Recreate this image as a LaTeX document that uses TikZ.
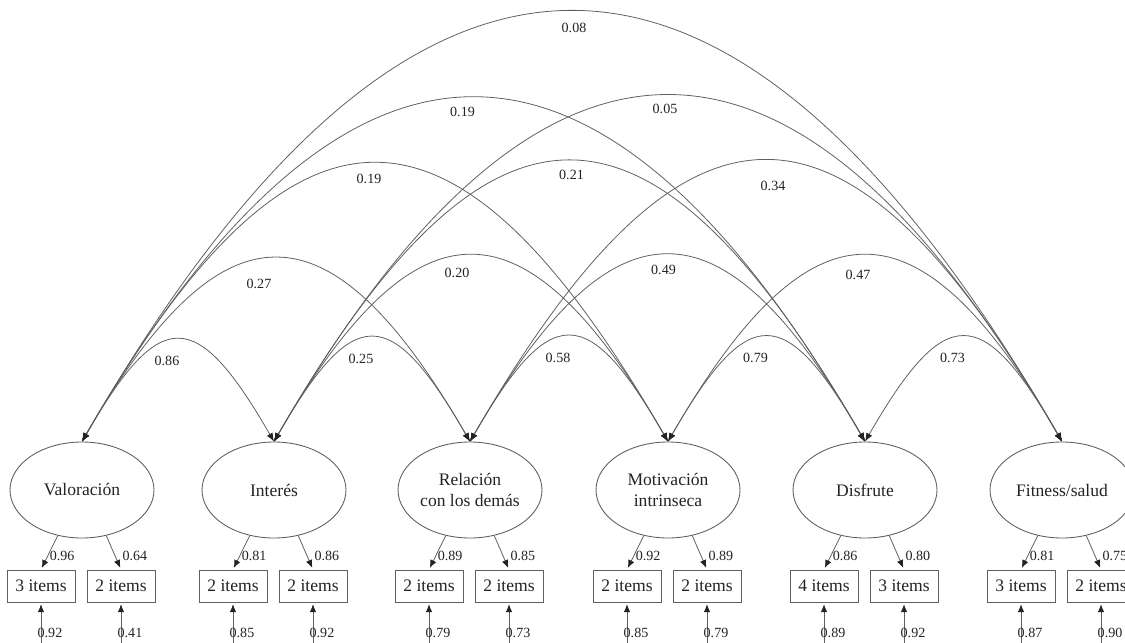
\documentclass[tikz,border=0pt]{standalone}
\usepackage{fontspec}
\setmainfont{Liberation Serif}
\usetikzlibrary{shapes,arrows.meta,positioning,calc}
\usepackage{xcolor}
\definecolor{semgray}{RGB}{95,95,95}
\definecolor{semtext}{RGB}{35,35,35}

\begin{document}
\begin{tikzpicture}[
    latent/.style={ellipse, draw=semgray, line width=0.5pt, minimum width=2.88cm, minimum height=1.92cm,
        inner sep=0pt, align=center, text=semtext, font=\fontsize{10}{12}\selectfont},
    obs/.style={rectangle, draw=semgray, line width=0.5pt, minimum width=1.36cm, minimum height=0.64cm,
        inner sep=1pt, text=semtext, font=\fontsize{10}{12}\selectfont},
    corr/.style={draw=semgray, line width=0.45pt,
        {Latex[length=1.7mm,width=1.3mm,color=semtext]}-{Latex[length=1.7mm,width=1.3mm,color=semtext]}},
    load/.style={draw=semgray, line width=0.45pt, -{Latex[length=1.6mm,width=1.3mm,color=semtext]}, shorten >=1pt},
    lbl/.style={inner sep=1pt, text=semtext, font=\fontsize{8}{9}\selectfont},
]
    \useasboundingbox (0,0) rectangle (22.5,12.84);

    % Latent factors
    \node[latent] (val) at (1.64,3.04) {Valoración};
    \node[latent] (int) at (5.48,3.04) {Interés};
    \node[latent] (rel) at (9.40,3.04) {Relación\\con los demás};
    \node[latent] (mot) at (13.36,3.04) {Motivación\\intrinseca};
    \node[latent] (dis) at (17.30,3.04) {Disfrute};
    \node[latent] (fit) at (21.24,3.04) {Fitness/salud};

    % Indicators
    \node[obs] (val1) at (0.82,1.12) {3 items};
    \node[obs] (val2) at (2.42,1.12) {2 items};
    \node[obs] (int1) at (4.66,1.12) {2 items};
    \node[obs] (int2) at (6.26,1.12) {2 items};
    \node[obs] (rel1) at (8.58,1.12) {2 items};
    \node[obs] (rel2) at (10.18,1.12) {2 items};
    \node[obs] (mot1) at (12.54,1.12) {2 items};
    \node[obs] (mot2) at (14.14,1.12) {2 items};
    \node[obs] (dis1) at (16.48,1.12) {4 items};
    \node[obs] (dis2) at (18.08,1.12) {3 items};
    \node[obs] (fit1) at (20.42,1.12) {3 items};
    \node[obs] (fit2) at (22.02,1.12) {2 items};

    % Loadings
    \draw[load] (val.242) -- (val1.north) node[lbl, pos=0.6, right=0pt] {0.96};
    \draw[load] (val.298) -- (val2.north) node[lbl, pos=0.6, right=3pt] {0.64};
    \draw[load] (int.242) -- (int1.north) node[lbl, pos=0.6, right=0pt] {0.81};
    \draw[load] (int.298) -- (int2.north) node[lbl, pos=0.6, right=3pt] {0.86};
    \draw[load] (rel.242) -- (rel1.north) node[lbl, pos=0.6, right=0pt] {0.89};
    \draw[load] (rel.298) -- (rel2.north) node[lbl, pos=0.6, right=3pt] {0.85};
    \draw[load] (mot.242) -- (mot1.north) node[lbl, pos=0.6, right=0pt] {0.92};
    \draw[load] (mot.298) -- (mot2.north) node[lbl, pos=0.6, right=3pt] {0.89};
    \draw[load] (dis.242) -- (dis1.north) node[lbl, pos=0.6, right=0pt] {0.86};
    \draw[load] (dis.298) -- (dis2.north) node[lbl, pos=0.6, right=3pt] {0.80};
    \draw[load] (fit.242) -- (fit1.north) node[lbl, pos=0.6, right=0pt] {0.81};
    \draw[load] (fit.298) -- (fit2.north) node[lbl, pos=0.6, right=3pt] {0.75};

    % Errors
    \coordinate[below=0.96cm of val1] (eval1);
    \coordinate[below=0.96cm of val2] (eval2);
    \coordinate[below=0.96cm of int1] (eint1);
    \coordinate[below=0.96cm of int2] (eint2);
    \coordinate[below=0.96cm of rel1] (erel1);
    \coordinate[below=0.96cm of rel2] (erel2);
    \coordinate[below=0.96cm of mot1] (emot1);
    \coordinate[below=0.96cm of mot2] (emot2);
    \coordinate[below=0.96cm of dis1] (edis1);
    \coordinate[below=0.96cm of dis2] (edis2);
    \coordinate[below=0.96cm of fit1] (efit1);
    \coordinate[below=0.96cm of fit2] (efit2);
    \draw[load] (eval1) -- (val1) node[lbl, pos=0.375, xshift=0.18cm] {0.92};
    \draw[load] (eval2) -- (val2) node[lbl, pos=0.375, xshift=0.18cm] {0.41};
    \draw[load] (eint1) -- (int1) node[lbl, pos=0.375, xshift=0.18cm] {0.85};
    \draw[load] (eint2) -- (int2) node[lbl, pos=0.375, xshift=0.18cm] {0.92};
    \draw[load] (erel1) -- (rel1) node[lbl, pos=0.375, xshift=0.18cm] {0.79};
    \draw[load] (erel2) -- (rel2) node[lbl, pos=0.375, xshift=0.18cm] {0.73};
    \draw[load] (emot1) -- (mot1) node[lbl, pos=0.375, xshift=0.18cm] {0.85};
    \draw[load] (emot2) -- (mot2) node[lbl, pos=0.375, xshift=0.18cm] {0.79};
    \draw[load] (edis1) -- (dis1) node[lbl, pos=0.375, xshift=0.18cm] {0.89};
    \draw[load] (edis2) -- (dis2) node[lbl, pos=0.375, xshift=0.18cm] {0.92};
    \draw[load] (efit1) -- (fit1) node[lbl, pos=0.375, xshift=0.18cm] {0.87};
    \draw[load] (efit2) -- (fit2) node[lbl, pos=0.375, xshift=0.18cm] {0.90};

    % Correlations, neighbours
    \draw[corr] (val.north) to[out=60, in=120, looseness=2.09] node[lbl, midway, xshift=-0.22cm, yshift=-0.42cm] {0.86} (int.north);
    \draw[corr] (int.north) to[out=60, in=120, looseness=2.09] node[lbl, midway, xshift=-0.22cm, yshift=-0.42cm] {0.25} (rel.north);
    \draw[corr] (rel.north) to[out=60, in=120, looseness=2.09] node[lbl, midway, xshift=-0.22cm, yshift=-0.42cm] {0.58} (mot.north);
    \draw[corr] (mot.north) to[out=60, in=120, looseness=2.09] node[lbl, midway, xshift=-0.22cm, yshift=-0.42cm] {0.79} (dis.north);
    \draw[corr] (dis.north) to[out=60, in=120, looseness=2.09] node[lbl, midway, xshift=-0.22cm, yshift=-0.42cm] {0.73} (fit.north);

    % Correlations, two apart
    \draw[corr] (val.north) to[out=60, in=120, looseness=1.86] node[lbl, midway, xshift=-0.34cm, yshift=-0.50cm] {0.27} (rel.north);
    \draw[corr] (int.north) to[out=60, in=120, looseness=1.86] node[lbl, midway, xshift=-0.28cm, yshift=-0.34cm] {0.20} (mot.north);
    \draw[corr] (rel.north) to[out=60, in=120, looseness=1.86] node[lbl, midway, xshift=-0.08cm, yshift=-0.28cm] {0.49} (dis.north);
    \draw[corr] (mot.north) to[out=60, in=120, looseness=1.86] node[lbl, midway, xshift=-0.14cm, yshift=-0.38cm] {0.47} (fit.north);

    % Correlations, three apart
    \draw[corr] (val.north) to[out=60, in=120, looseness=1.87] node[lbl, midway, xshift=-0.12cm, yshift=-0.30cm] {0.19} (mot.north);
    \draw[corr] (int.north) to[out=60, in=120, looseness=1.87] node[lbl, midway, xshift=0.04cm, yshift=-0.26cm] {0.21} (dis.north);
    \draw[corr] (rel.north) to[out=60, in=120, looseness=1.87] node[lbl, midway, xshift=0.14cm, yshift=-0.50cm] {0.34} (fit.north);

    % Correlations, four and five apart
    \draw[corr] (val.north) to[out=60, in=120, looseness=1.73] node[lbl, midway, xshift=-0.22cm, yshift=-0.26cm] {0.19} (dis.north);
    \draw[corr] (int.north) to[out=60, in=120, looseness=1.73] node[lbl, midway, xshift=-0.06cm, yshift=-0.26cm] {0.05} (fit.north);
    \draw[corr] (val.north) to[out=60, in=120, looseness=1.73] node[lbl, midway, xshift=0.04cm, yshift=-0.32cm] {0.08} (fit.north);
\end{tikzpicture}
\end{document}
